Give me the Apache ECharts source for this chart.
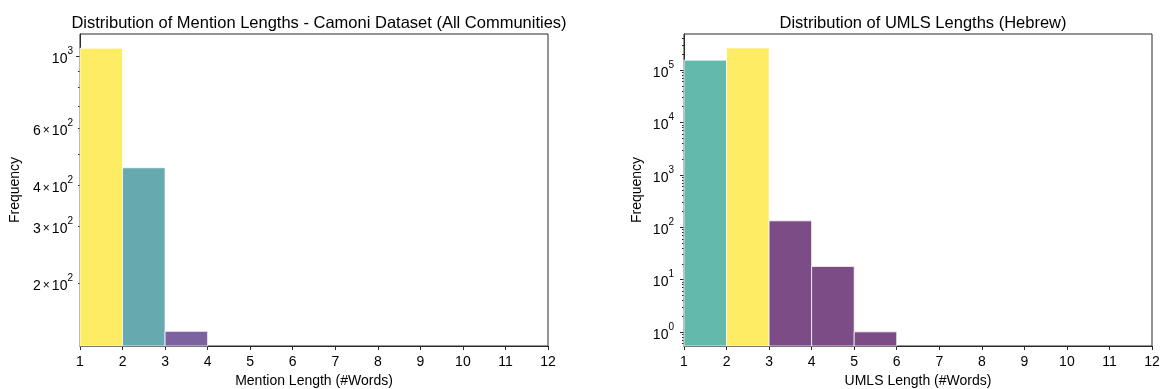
<!DOCTYPE html>
<html>
<head>
<meta charset="utf-8">
<script src="https://cdn.jsdelivr.net/npm/echarts@6/dist/echarts.min.js"></script>
<style>
html,body{margin:0;padding:0;background:#fff;}
#c{width:1165px;height:389px;}
</style>
</head>
<body>
<div id="c"></div>
<script>
// ---- data ----
const xTicks = [1,2,3,4,5,6,7,8,9,10,11,12];

const mentionBinStarts = [1, 2, 3];
const mentionCounts = [1058, 453, 142];
const mentionColors = ['#feec64', '#66a9ae', '#7d62a0'];

const umlsBinStarts = [1, 2, 3, 4, 5];
const umlsCounts = [155000, 265000, 132, 17.8, 1];
const umlsColors = ['#62b9ac', '#feec64', '#7b4c86', '#7b4c86', '#7b4c86'];

const leftTitle = 'Distribution of Mention Lengths - Camoni Dataset (All Communities)';
const rightTitle = 'Distribution of UMLS Lengths (Hebrew)';
const leftXLabel = 'Mention Length (#Words)';
const rightXLabel = 'UMLS Length (#Words)';
const yLabel = 'Frequency';

const leftYRange = [128, 1170];
const rightYRange = [0.537, 490000];
const leftYLabelValues = [200, 300, 400, 600, 1000];

// ---- helpers ----
const FONT = "'Liberation Sans', Arial, sans-serif";
function logTicks(lo, hi) {
  const out = [];
  for (let e = Math.floor(Math.log10(lo)) - 1; e <= Math.ceil(Math.log10(hi)); e++) {
    for (let m = 1; m <= 9; m++) {
      const v = m * Math.pow(10, e);
      if (v >= lo && v <= hi) out.push(v);
    }
  }
  return out;
}
function majorTicks(lo, hi) {
  const out = [];
  for (let e = Math.floor(Math.log10(lo)); e <= Math.ceil(Math.log10(hi)); e++) {
    const v = Math.pow(10, e);
    if (v >= lo && v <= hi) out.push(v);
  }
  return out;
}
function sciLabel(v) {
  const e = Math.floor(Math.log10(v) + 1e-9);
  const m = Math.round(v / Math.pow(10, e));
  return (m === 1 ? '{b|10}' : '{b|' + m + '}{x|\u00d7}{b|10}') + '{s|' + e + '}';
}
const rich = {
  b: {fontSize: 14, fontFamily: FONT, color: '#000', lineHeight: 20, verticalAlign: 'bottom'},
  x: {fontSize: 12, fontFamily: FONT, color: '#000', lineHeight: 20, verticalAlign: 'bottom', padding: [0, 2, 1, 2]},
  s: {fontSize: 10, fontFamily: FONT, color: '#000', lineHeight: 11, verticalAlign: 'top'}
};

function renderBar(starts, counts, colors, yMin) {
  return function (params, api) {
    const i = params.dataIndex;
    const x0 = api.value(0), x1 = api.value(1), y = api.value(2);
    const p0 = api.coord([x0, y]);
    const p1 = api.coord([x1, yMin]);
    const cs = params.coordSys;
    const rect = echarts.graphic.clipRectByRect({
      x: p0[0], y: p0[1], width: p1[0] - p0[0], height: p1[1] - p0[1]
    }, {x: cs.x, y: cs.y, width: cs.width, height: cs.height});
    if (!rect) return;
    return {
      type: 'rect', shape: rect,
      style: {fill: colors[i], stroke: 'rgba(255,255,255,0.75)', lineWidth: 1}
    };
  };
}

const grids = [
  {left: 80, top: 34, width: 468, height: 312, show: true, borderColor: '#2a2a2a', borderWidth: 1,
   backgroundColor: 'transparent', containLabel: false, outerBoundsMode: 'none'},
  {left: 684, top: 34, width: 468, height: 312, show: true, borderColor: '#2a2a2a', borderWidth: 1,
   backgroundColor: 'transparent', containLabel: false, outerBoundsMode: 'none'}
];

function xAxis(gi, name) {
  return {
    type: 'value', gridIndex: gi, min: 1, max: 12, interval: 1,
    name: name, nameLocation: 'middle', nameGap: 28,
    nameTextStyle: {fontSize: 14, fontFamily: FONT, color: '#000'},
    axisLine: {show: true, lineStyle: {color: '#2a2a2a', width: 1}},
    axisTick: {show: true, inside: false, length: 4, lineStyle: {color: '#2a2a2a'}},
    axisLabel: {fontSize: 14, fontFamily: FONT, color: '#000', margin: 9},
    splitLine: {show: false}
  };
}

function yAxes(gi, range, labelVals, tickVals, minorVals) {
  const base = {
    type: 'log', logBase: 10, gridIndex: gi, min: range[0], max: range[1], position: 'left',
    splitLine: {show: false}, minorTick: {show: false}
  };
  return [
    Object.assign({}, base, {
      name: yLabel, nameLocation: 'middle', nameGap: gi === 0 ? 58 : 40,
      nameTextStyle: {fontSize: 14, fontFamily: FONT, color: '#000'},
      axisLine: {show: true, lineStyle: {color: '#2a2a2a', width: 1}},
      axisTick: {show: true, length: 4, lineStyle: {color: '#2a2a2a'}, customValues: tickVals},
      axisLabel: {show: true, margin: gi === 0 ? 7 : 10, customValues: labelVals, formatter: sciLabel, rich: rich}
    }),
    Object.assign({}, base, {
      axisLine: {show: false},
      axisTick: {show: true, length: 2, lineStyle: {color: '#2a2a2a'}, customValues: minorVals},
      axisLabel: {show: false}
    })
  ];
}

const leftMinor = logTicks(leftYRange[0], leftYRange[1]);
const rightMajor = majorTicks(rightYRange[0], rightYRange[1]);
const rightMinor = logTicks(rightYRange[0], rightYRange[1]);

const option = {
  animation: false,
  backgroundColor: '#fff',
  title: [
    {text: leftTitle, left: 314, top: 10, textAlign: 'center',
     textStyle: {fontSize: 16.5, fontWeight: 'normal', fontFamily: FONT, color: '#000'}},
    {text: rightTitle, left: 918, top: 10, textAlign: 'center',
     textStyle: {fontSize: 16.5, fontWeight: 'normal', fontFamily: FONT, color: '#000'}}
  ],
  grid: grids,
  xAxis: [xAxis(0, leftXLabel), xAxis(1, rightXLabel)],
  yAxis: [].concat(
    yAxes(0, leftYRange, leftYLabelValues, [1000], leftMinor.filter(v => v !== 1000)),
    yAxes(1, rightYRange, rightMajor, rightMajor, rightMinor.filter(v => rightMajor.indexOf(v) < 0))
  ),
  series: [
    {
      type: 'custom', xAxisIndex: 0, yAxisIndex: 0,
      renderItem: renderBar(mentionBinStarts, mentionCounts, mentionColors, leftYRange[0]),
      encode: {x: [0, 1], y: 2},
      data: mentionBinStarts.map((s, i) => [s, s + 1, mentionCounts[i]])
    },
    {
      type: 'custom', xAxisIndex: 1, yAxisIndex: 2,
      renderItem: renderBar(umlsBinStarts, umlsCounts, umlsColors, rightYRange[0]),
      encode: {x: [0, 1], y: 2},
      data: umlsBinStarts.map((s, i) => [s, s + 1, umlsCounts[i]])
    }
  ]
};

const chart = echarts.init(document.getElementById('c'), null, {renderer: 'canvas'});
chart.setOption(option);
</script>
</body>
</html>
